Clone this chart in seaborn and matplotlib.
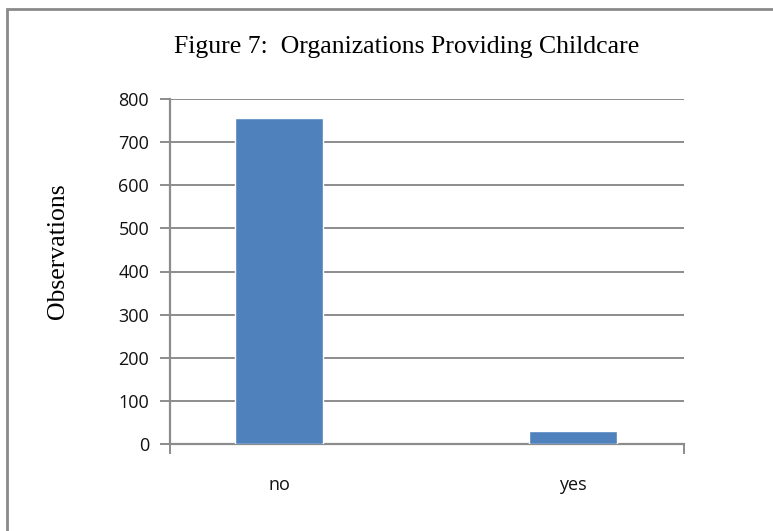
import matplotlib
matplotlib.use("Agg")
import matplotlib.pyplot as plt
from matplotlib.patches import Rectangle
import seaborn as sns
import pandas as pd

# Survey answers and how many organizations gave each
categories = ["no", "yes"]
observations = [755, 31]
y_ticks = [0, 100, 200, 300, 400, 500, 600, 700, 800]

title = "Figure 7:  Organizations Providing Childcare"
y_label = "Observations"

bar_color = "#4F81BD"
grid_color = "#8C8C8C"

sns.set_theme(style="white")
plt.rcParams["font.family"] = ["Open Sans", "DejaVu Sans"]

W, H = 773, 531
fig = plt.figure(figsize=(W / 100, H / 100), dpi=100)
fig.patch.set_facecolor("white")

# Plot area placed in pixel terms
left, right, top, bottom = 170, 684, 99, 444
ax = fig.add_axes([left / W, 1 - bottom / H, (right - left) / W, (bottom - top) / H])

df = pd.DataFrame({"answer": categories, "count": observations})
sns.barplot(data=df, x="answer", y="count", color=bar_color, width=0.30,
            saturation=1, ax=ax, zorder=3)

ax.set_xlim(-0.371, 1.378)
ax.set_ylim(0, 800)
ax.set_yticks(y_ticks)
ax.yaxis.grid(True, color=grid_color, linewidth=1.4)
ax.set_axisbelow(True)

for side in ["top", "right"]:
    ax.spines[side].set_visible(False)
for side in ["left", "bottom"]:
    ax.spines[side].set_color(grid_color)
    ax.spines[side].set_linewidth(1.6)

ax.tick_params(axis="y", which="major", direction="out", length=7, width=1.4,
               color=grid_color, labelsize=13, labelcolor="#111111", pad=8, left=True)
ax.tick_params(axis="x", which="major", length=0, labelsize=13,
               labelcolor="#111111", pad=23)
ax.set_xticks([ax.get_xlim()[0], ax.get_xlim()[1]], minor=True)
ax.tick_params(axis="x", which="minor", direction="out", length=7, width=1.4,
               color=grid_color, bottom=True)

ax.set_xlabel("")
ax.set_ylabel("")
fig.text(58 / W, 1 - 251 / H, y_label, rotation=90, ha="center", va="center",
         family=["Liberation Serif", "DejaVu Serif"], fontsize=18.5, color="black")

fig.text(407 / W, 1 - 47 / H, title, ha="center", va="center",
         family=["Liberation Serif", "DejaVu Serif"], fontsize=18.5, color="black")

# Outer chart frame running off the right and bottom edges
fig.add_artist(Rectangle((7 / W, -0.05), 1.1, 1.05 - 9 / H,
                         transform=fig.transFigure, fill=False,
                         edgecolor="#8A8A8A", linewidth=2))

fig.savefig("out.png", dpi=100, facecolor="white")
